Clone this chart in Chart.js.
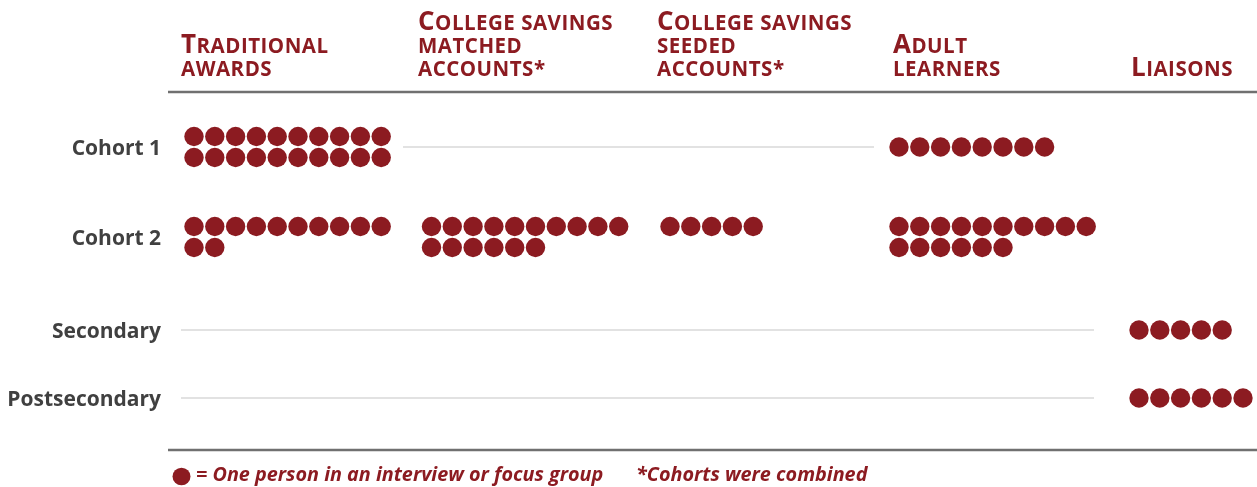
<!DOCTYPE html>
<html>
<head>
<meta charset="utf-8">
<title>Interview and focus group participants</title>
<script src="https://cdn.jsdelivr.net/npm/chart.js@4/dist/chart.umd.min.js"></script>
<style>
  html, body { margin: 0; padding: 0; background: #fff; }
</style>
</head>
<body>
<canvas id="chart" width="1257" height="487"></canvas>
<script>
const groups = ['Cohort 1', 'Cohort 2', 'Secondary', 'Postsecondary'];
const columns = [
  ['Traditional', 'awards'],
  ['College savings', 'matched', 'accounts*'],
  ['College savings', 'seeded', 'accounts*'],
  ['Adult', 'learners'],
  ['Liaisons'],
];

// people in an interview or focus group, one entry per group
const traditional = [20, 12, 0, 0];
const matched = [0, 16, 0, 0];
const seeded = [0, 5, 0, 0];
const adult = [8, 16, 0, 0];
const liaisons = [0, 0, 5, 6];

const legendText = '= One person in an interview or focus group';
const noteText = '*Cohorts were combined';

// layout
const RED = '#8c1b21';
const FONT = '"Open Sans", sans-serif';
const colX = [194, 431.5, 670, 899, 1139];  // centre of the first dot in a column
const headX = [181, 418, 657, 893, 1131];    // left edge of the column headers
const bandX = [181, 403, 640, 874, 1094];   // where an empty cell's rule starts
const rowY = [147, 237, 330, 398];
const rowAnchor = ['center', 'top', 'center', 'center'];
const DOT_STEP = 20.8;
const ROW_STEP = 21;
const PER_ROW = 10;

const counts = [traditional, matched, seeded, adult, liaisons];

const dots = [];
counts.forEach((col, c) => {
  col.forEach((n, r) => {
    const lines = Math.ceil(n / PER_ROW);
    const y0 = rowAnchor[r] === 'top'
      ? rowY[r] - ROW_STEP / 2
      : rowY[r] - (lines - 1) * ROW_STEP / 2;
    for (let i = 0; i < n; i++) {
      dots.push({
        x: colX[c] + (i % PER_ROW) * DOT_STEP,
        y: y0 + Math.floor(i / PER_ROW) * ROW_STEP,
      });
    }
  });
});

// thin rules across runs of empty cells that lead up to some dots
const rules = [];
groups.forEach((g, r) => {
  let c = 0;
  while (c < counts.length) {
    if (counts[c][r] > 0) { c++; continue; }
    let end = c;
    while (end < counts.length && counts[end][r] === 0) end++;
    if (end < counts.length) {
      rules.push({ x: bandX[c], y: rowY[r] }, { x: bandX[end], y: rowY[r] }, { x: bandX[end], y: null });
    }
    c = end;
  }
});

const decorations = {
  id: 'decorations',
  afterDraw(chart) {
    const ctx = chart.ctx;
    const left = chart.chartArea.left;
    const right = chart.width;
    ctx.save();

    // heavy rules under the headers and above the key
    ctx.strokeStyle = '#707070';
    ctx.lineWidth = 2.5;
    [92, 450].forEach(y => {
      ctx.beginPath();
      ctx.moveTo(left, y);
      ctx.lineTo(right, y);
      ctx.stroke();
    });

    // column headers in small capitals, last line on a shared baseline
    ctx.fillStyle = RED;
    ctx.textBaseline = 'alphabetic';
    ctx.textAlign = 'left';
    ctx.letterSpacing = '0.5px';
    const big = 'bold 26px ' + FONT;
    const small = 'bold 20.5px ' + FONT;
    const lineH = 23;
    columns.forEach((lines, c) => {
      lines.forEach((text, k) => {
        const y = 76 - (lines.length - 1 - k) * lineH;
        let cx = headX[c];
        let rest = text;
        if (k === 0) {
          ctx.font = big;
          ctx.fillText(text[0], cx, y);
          cx += ctx.measureText(text[0]).width;
          rest = text.slice(1);
        }
        ctx.font = small;
        ctx.fillText(rest.toUpperCase(), cx, y);
      });
    });
    ctx.letterSpacing = '0px';

    // key
    ctx.beginPath();
    ctx.ellipse(181.5, 476.5, 9, 8.7, 0, 0, Math.PI * 2);
    ctx.fill();
    ctx.font = 'italic bold 19.8px ' + FONT;
    ctx.fillText(legendText, 196, 481);
    ctx.fillText(noteText, 636, 481);

    ctx.restore();
  },
};

new Chart(document.getElementById('chart'), {
  type: 'scatter',
  data: {
    datasets: [
      {
        type: 'line',
        data: rules,
        borderColor: '#d9d9d9',
        borderWidth: 1.5,
        pointRadius: 0,
        spanGaps: false,
        order: 2,
      },
      {
        data: dots,
        backgroundColor: RED,
        borderWidth: 0,
        pointRadius: 9.7,
        pointHoverRadius: 9.7,
        order: 1,
      },
    ],
  },
  options: {
    responsive: false,
    animation: false,
    events: [],
    layout: { padding: 0, autoPadding: false },
    plugins: { legend: { display: false }, tooltip: { enabled: false } },
    scales: {
      x: { type: 'linear', display: false, min: 168, max: 1257 },
      y: {
        type: 'linear',
        reverse: true,
        min: 0,
        max: 487,
        grid: { display: false, drawTicks: false },
        border: { display: false },
        afterFit: scale => {
          scale.width = 168;
          scale.paddingTop = 0;
          scale.paddingBottom = 0;
        },
        afterBuildTicks: scale => { scale.ticks = rowY.map(v => ({ value: v })); },
        ticks: {
          autoSkip: false,
          padding: 7,
          labelOffset: 2,
          color: '#404040',
          font: { family: FONT, size: 21, weight: 'bold' },
          callback: value => groups[rowY.indexOf(value)],
        },
      },
    },
  },
  plugins: [decorations],
});
</script>
</body>
</html>
